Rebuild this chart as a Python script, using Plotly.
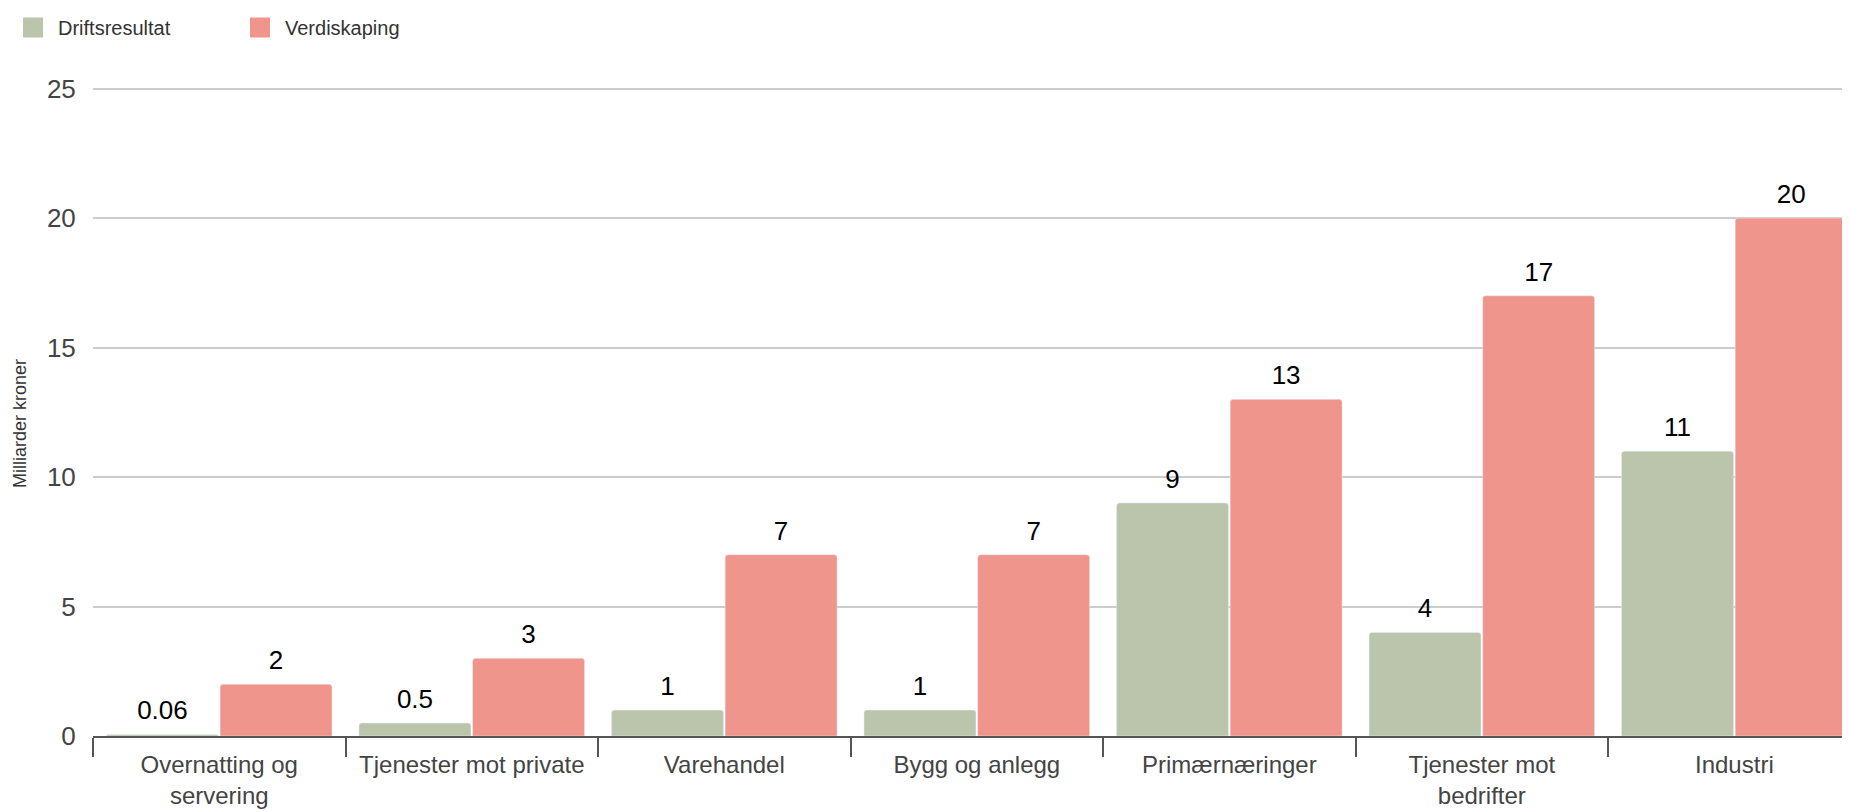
import plotly.graph_objects as go

categories = ["Overnatting og<br>servering", "Tjenester mot private", "Varehandel",
              "Bygg og anlegg", "Primærnæringer", "Tjenester mot<br>bedrifter", "Industri"]
drift = [0.06, 0.5, 1, 1, 9, 4, 11]
verdi = [2, 3, 7, 7, 13, 17, 20]
drift_labels = ["0.06", "0.5", "1", "1", "9", "4", "11"]
verdi_labels = ["2", "3", "7", "7", "13", "17", "20"]

green = "#bac5ab"
pink = "#ef958c"
font = "Liberation Sans, Arial, sans-serif"

fig = go.Figure()
for name, vals, labels, col, grp in [("Driftsresultat", drift, drift_labels, green, "a"),
                                      ("Verdiskaping", verdi, verdi_labels, pink, "b")]:
    fig.add_bar(x=categories, y=vals, name=name, marker_color=col, marker_cornerradius=3,
                offsetgroup=grp, showlegend=False)
    # value labels, a bit higher above the bars than bar text would sit
    fig.add_scatter(x=categories, y=vals, mode="markers+text", text=labels,
                    textposition="top center", offsetgroup=grp,
                    marker=dict(size=12, color="rgba(0,0,0,0)"),
                    textfont=dict(size=26, color="#000"), cliponaxis=False,
                    showlegend=False, hoverinfo="skip")
    # legend entry with a bigger square swatch (outline in same colour makes it larger)
    fig.add_scatter(x=[None], y=[None], mode="markers", name=name,
                    marker=dict(symbol="square", size=22, color=col,
                                line=dict(color=col, width=4)))

# y title sits a little below the middle of the plot in the original
fig.add_annotation(text="Milliarder kroner", textangle=-90, xref="paper", yref="paper",
                   x=-0.0415, y=0.48, xanchor="center", yanchor="middle", showarrow=False,
                   font=dict(size=18, color="#333"))

# page body has an 8px margin, so the figure is 8px smaller each way
fig.update_layout(
    width=1842, height=804,
    paper_bgcolor="white", plot_bgcolor="white",
    font=dict(family=font, color="#444"),
    barmode="group", bargap=0.1, bargroupgap=0.015,
    scattermode="group", scattergap=0.1,
    margin=dict(l=85, r=0, t=78, b=76, autoexpand=False),
    legend=dict(orientation="h", x=0, xref="container", y=1.0, yref="container",
                yanchor="top", xanchor="left", font=dict(size=20, color="#333"),
                itemwidth=40, entrywidth=172, entrywidthmode="pixels"),
)
fig.update_xaxes(range=[-0.5, 6.458], showline=True, linecolor="#555", linewidth=2,
                 ticks="outside", tickson="boundaries", ticklen=19, tickwidth=2,
                 tickcolor="#555", tickfont=dict(size=24, color="#444"), showgrid=False,
                 ticklabelstandoff=6, automargin=False)
fig.update_yaxes(range=[0, 25.1], dtick=5, showgrid=True, gridcolor="#cccccc", gridwidth=2,
                 zeroline=False, ticks="outside", ticklen=11, tickcolor="rgba(0,0,0,0)",
                 tickfont=dict(size=26, color="#444"), automargin=False)

fig.write_html("out.html")
